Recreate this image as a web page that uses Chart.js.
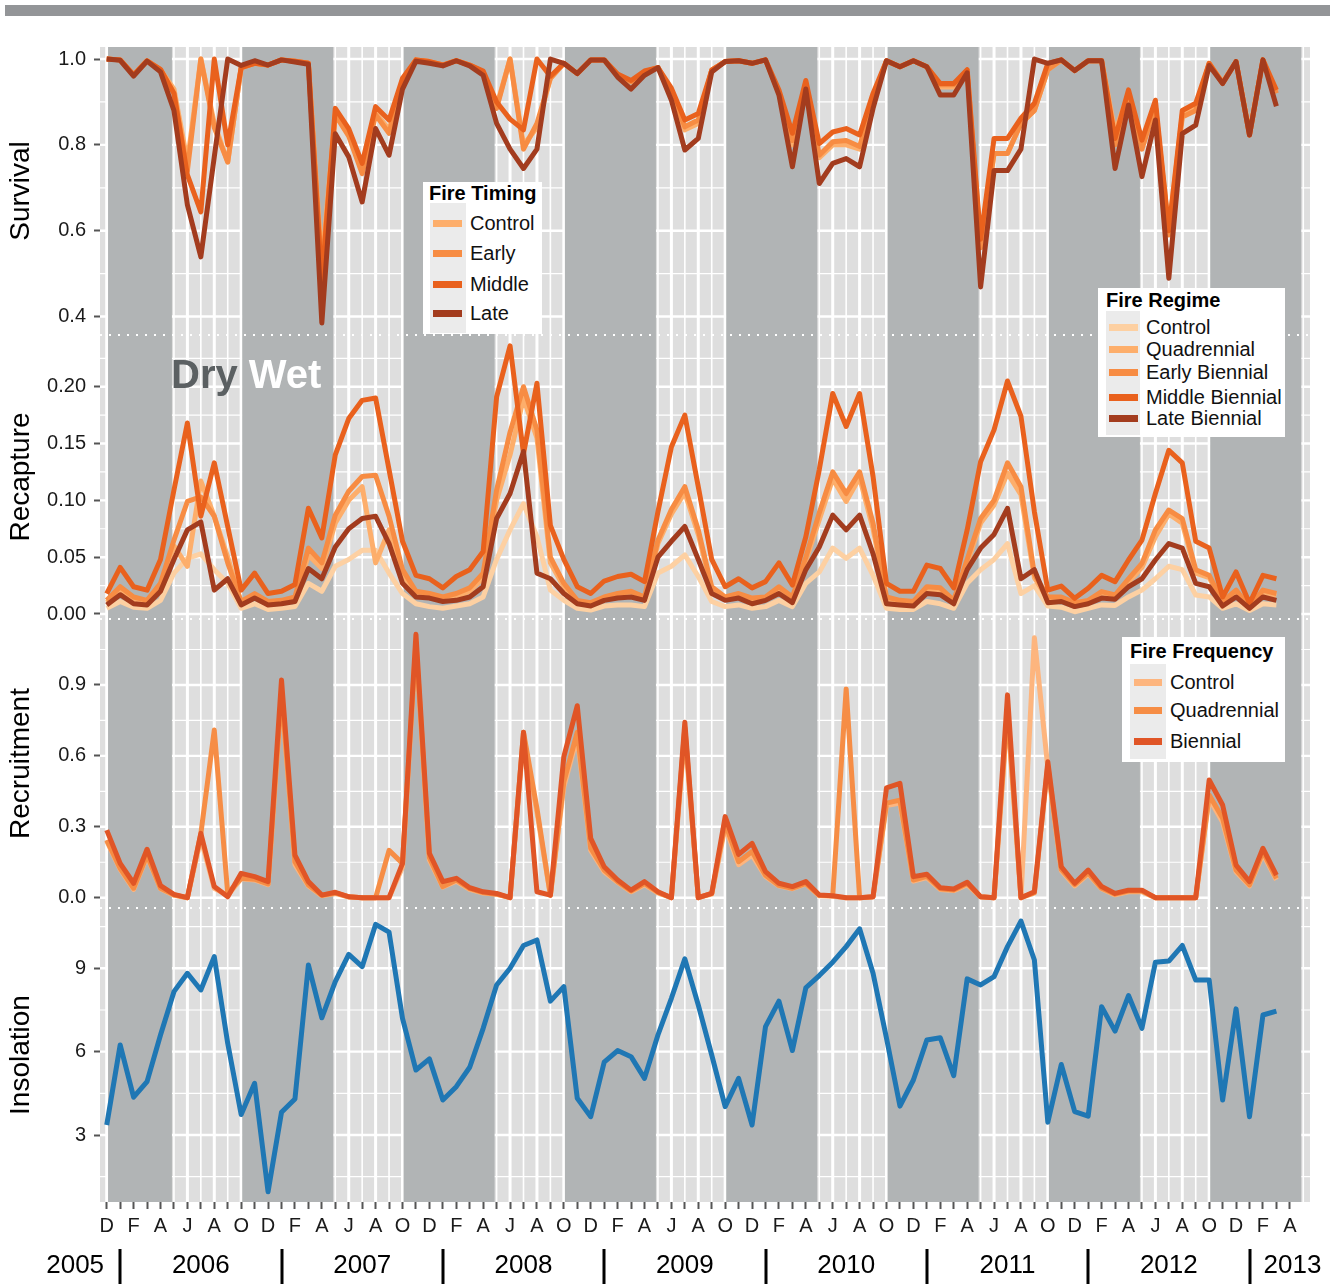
<!DOCTYPE html>
<html>
<head>
<meta charset="utf-8">
<script src="https://cdn.jsdelivr.net/npm/chart.js@4.4.1/dist/chart.umd.min.js"></script>
<style>
html,body{margin:0;padding:0;background:#fff;}
#wrap{position:relative;width:1333px;height:1284px;font-family:"Liberation Sans",Arial,Helvetica,sans-serif;overflow:hidden;}
#c{position:absolute;left:0;top:0;}
.topbar{position:absolute;left:5px;top:5px;width:1325px;height:11px;background:#939598;}
.leg{position:absolute;background:#fff;}
.leg .t{position:absolute;font-weight:bold;font-size:20px;line-height:20px;color:#000;white-space:nowrap;}
.leg .kc{position:absolute;background:#ebebeb;}
.leg .ln{position:absolute;height:7px;}
.leg .lb{position:absolute;font-size:20px;line-height:20px;color:#111;white-space:nowrap;}
.season{position:absolute;left:171px;top:354px;font-size:40px;line-height:40px;font-weight:bold;color:#5b6062;white-space:nowrap;}
.season span{color:#fff;}
</style>
</head>
<body>
<div id="wrap">
<canvas id="c" width="1333" height="1284"></canvas>
<div class="topbar"></div>
<div class="season">Dry <span>Wet</span></div>
</div>
<script>
// ---------- DATA ----------
// month index 0 = Dec 2005 ... 88 = Apr 2013
const monthInitials = ['D','J','F','M','A','M','J','J','A','S','O','N'];
const years = ['2005','2006','2007','2008','2009','2010','2011','2012','2013'];

const timingNames = ['Control','Early','Middle','Late'];
const regimeNames = ['Control','Quadrennial','Early Biennial','Middle Biennial','Late Biennial'];
const frequencyNames = ['Control','Quadrennial','Biennial'];

const survivalControl = [1.0,0.998,0.963,0.996,0.975,0.93,0.76,1.0,0.85,0.76,
 0.98,0.99,0.986,0.998,0.995,0.99,0.52,0.875,0.83,0.745,
 0.875,0.835,0.95,0.998,0.994,0.986,0.996,0.986,0.97,0.89,
 1.0,0.80,0.84,0.955,0.99,0.966,0.998,0.998,0.962,0.947,
 0.97,0.98,0.925,0.835,0.85,0.974,0.994,0.996,0.99,0.998,
 0.92,0.80,0.945,0.77,0.80,0.80,0.79,0.905,0.996,0.982,
 0.996,0.982,0.935,0.935,0.974,0.57,0.78,0.78,0.85,0.88,
 0.975,0.998,0.973,0.996,0.996,0.83,0.92,0.80,0.89,0.60,
 0.87,0.885,0.99,0.945,0.994,0.83,0.998,0.925];
const survivalEarly = [1.0,0.998,0.963,0.996,0.975,0.92,0.74,1.0,0.84,0.76,
 0.98,0.99,0.986,0.998,0.995,0.99,0.50,0.87,0.82,0.733,
 0.87,0.827,0.95,0.998,0.994,0.986,0.996,0.986,0.97,0.885,
 1.0,0.79,0.85,0.955,0.99,0.966,0.998,0.998,0.962,0.947,
 0.97,0.98,0.925,0.842,0.858,0.974,0.994,0.996,0.99,0.998,
 0.92,0.81,0.945,0.776,0.807,0.81,0.796,0.91,0.996,0.982,
 0.996,0.982,0.94,0.94,0.974,0.56,0.78,0.78,0.85,0.88,
 0.975,0.998,0.973,0.996,0.996,0.80,0.92,0.79,0.89,0.59,
 0.865,0.88,0.99,0.945,0.994,0.823,0.998,0.92];
const survivalMiddle = [1.0,0.998,0.963,0.996,0.976,0.92,0.73,0.644,1.0,0.80,
 0.98,0.99,0.986,0.998,0.995,0.99,0.48,0.885,0.838,0.757,
 0.889,0.858,0.955,0.998,0.994,0.986,0.996,0.986,0.972,0.90,
 0.86,0.835,1.0,0.96,0.99,0.966,0.998,0.998,0.965,0.95,
 0.972,0.98,0.932,0.858,0.873,0.974,0.994,0.996,0.99,0.998,
 0.928,0.827,0.95,0.803,0.83,0.838,0.823,0.92,0.996,0.982,
 0.996,0.982,0.943,0.943,0.975,0.58,0.815,0.815,0.862,0.897,
 0.99,0.998,0.973,0.996,0.996,0.815,0.928,0.811,0.904,0.60,
 0.88,0.897,0.99,0.943,0.994,0.823,0.998,0.928];
const survivalLate = [1.0,0.997,0.96,0.995,0.97,0.88,0.66,0.539,0.772,1.0,
 0.985,0.996,0.986,0.998,0.993,0.988,0.385,0.826,0.772,0.667,
 0.838,0.776,0.93,0.995,0.99,0.984,0.996,0.984,0.962,0.85,
 0.79,0.745,0.79,1.0,0.99,0.966,0.998,0.998,0.958,0.93,
 0.962,0.98,0.904,0.788,0.815,0.97,0.994,0.996,0.99,0.998,
 0.916,0.749,0.93,0.71,0.757,0.768,0.749,0.885,0.996,0.982,
 0.996,0.982,0.916,0.916,0.968,0.469,0.74,0.74,0.79,1.0,
 0.99,0.998,0.973,0.996,0.996,0.745,0.893,0.726,0.858,0.489,
 0.826,0.846,0.985,0.943,0.994,0.823,0.998,0.89];

const recaptureControl = [0.005,0.011,0.006,0.005,0.012,0.036,0.049,0.053,0.039,0.027,
 0.005,0.009,0.004,0.005,0.0065,0.027,0.02,0.042,0.048,0.056,
 0.056,0.036,0.018,0.009,0.0065,0.005,0.007,0.009,0.015,0.048,
 0.074,0.097,0.068,0.021,0.012,0.005,0.0035,0.007,0.008,0.008,
 0.0065,0.036,0.042,0.052,0.033,0.011,0.0065,0.008,0.005,0.0065,
 0.012,0.0065,0.027,0.037,0.058,0.049,0.058,0.034,0.005,0.004,
 0.004,0.011,0.009,0.005,0.027,0.039,0.048,0.062,0.018,0.025,
 0.007,0.006,0.002,0.005,0.008,0.0075,0.015,0.021,0.031,0.042,
 0.039,0.0167,0.015,0.005,0.009,0.003,0.009,0.008];
const recaptureQuadrennial = [0.01,0.02,0.012,0.01,0.024,0.06,0.042,0.117,0.086,0.05,
 0.009,0.015,0.009,0.01,0.013,0.052,0.04,0.08,0.10,0.112,
 0.045,0.074,0.035,0.017,0.016,0.013,0.015,0.02,0.032,0.10,
 0.14,0.19,0.155,0.045,0.024,0.011,0.009,0.013,0.016,0.017,
 0.013,0.062,0.088,0.107,0.07,0.022,0.013,0.016,0.012,0.013,
 0.022,0.013,0.047,0.083,0.119,0.099,0.12,0.075,0.013,0.011,
 0.01,0.022,0.02,0.011,0.045,0.08,0.096,0.124,0.105,0.032,
 0.013,0.013,0.009,0.01,0.018,0.015,0.028,0.041,0.068,0.088,
 0.08,0.036,0.032,0.01,0.019,0.006,0.019,0.016];
const recaptureEarlyBiennial = [0.012,0.024,0.015,0.012,0.027,0.065,0.099,0.103,0.086,0.045,
 0.011,0.018,0.011,0.012,0.015,0.058,0.045,0.087,0.108,0.121,
 0.122,0.086,0.039,0.02,0.018,0.015,0.018,0.023,0.036,0.109,
 0.16,0.20,0.162,0.05,0.027,0.012,0.01,0.015,0.018,0.02,
 0.015,0.065,0.092,0.112,0.074,0.024,0.015,0.018,0.014,0.015,
 0.024,0.015,0.05,0.089,0.125,0.106,0.125,0.08,0.015,0.012,
 0.011,0.024,0.023,0.012,0.048,0.084,0.10,0.133,0.112,0.035,
 0.015,0.015,0.01,0.012,0.0197,0.0167,0.031,0.0446,0.074,0.0915,
 0.084,0.039,0.034,0.011,0.021,0.0065,0.021,0.018];
const recaptureMiddleBiennial = [0.018,0.041,0.024,0.021,0.048,0.109,0.168,0.086,0.133,0.077,
 0.021,0.036,0.018,0.02,0.026,0.093,0.067,0.14,0.172,0.188,
 0.19,0.127,0.064,0.034,0.031,0.023,0.033,0.039,0.055,0.191,
 0.236,0.141,0.203,0.078,0.048,0.024,0.018,0.029,0.033,0.035,
 0.0285,0.09,0.147,0.175,0.112,0.048,0.024,0.031,0.023,0.0285,
 0.045,0.0255,0.068,0.127,0.194,0.165,0.194,0.121,0.027,0.02,
 0.02,0.043,0.04,0.023,0.074,0.134,0.162,0.205,0.174,0.09,
 0.021,0.0246,0.0138,0.0226,0.034,0.0285,0.0475,0.065,0.106,0.144,
 0.133,0.064,0.058,0.015,0.037,0.0094,0.034,0.031];
const recaptureLateBiennial = [0.008,0.017,0.009,0.008,0.02,0.048,0.074,0.081,0.021,0.031,
 0.008,0.014,0.008,0.009,0.011,0.04,0.031,0.059,0.075,0.084,
 0.086,0.062,0.027,0.015,0.014,0.011,0.012,0.015,0.024,0.084,
 0.106,0.143,0.036,0.031,0.018,0.009,0.007,0.012,0.014,0.015,
 0.012,0.05,0.064,0.077,0.048,0.018,0.012,0.014,0.009,0.012,
 0.018,0.01,0.039,0.059,0.087,0.074,0.087,0.053,0.009,0.008,
 0.007,0.018,0.017,0.009,0.039,0.058,0.07,0.093,0.031,0.039,
 0.01,0.011,0.0065,0.009,0.014,0.013,0.024,0.031,0.0475,0.062,
 0.058,0.027,0.024,0.007,0.015,0.005,0.015,0.012];

const recruitmentControl = [0.24,0.12,0.035,0.175,0.038,0.01,0,0.25,0.04,0.01,
 0.08,0.075,0.055,0.86,0.14,0.05,0.008,0.018,0.003,0,
 0,0,0.13,1.09,0.16,0.045,0.07,0.035,0.02,0.014,
 0,0.68,0.36,0.01,0.47,0.68,0.2,0.11,0.065,0.025,
 0.055,0.02,0,0.70,0,0.015,0.30,0.14,0.18,0.09,
 0.05,0.038,0.058,0.008,0.006,0,0,0.003,0.39,0.40,
 0.07,0.085,0.035,0.03,0.055,0.003,0,0.78,0,1.10,
 0.55,0.115,0.05,0.10,0.038,0.012,0.025,0.025,0,0,
 0,0,0.42,0.32,0.11,0.05,0.185,0.075];
const recruitmentQuadrennial = [0.244,0.124,0.04,0.18,0.04,0.012,0,0.27,0.709,0.018,
 0.082,0.078,0.058,0.87,0.152,0.054,0.01,0.02,0.004,0,
 0,0.2,0.145,1.08,0.17,0.047,0.075,0.038,0.022,0.015,
 0,0.70,0.378,0.01,0.49,0.70,0.209,0.117,0.068,0.028,
 0.06,0.022,0,0.72,0,0.018,0.315,0.152,0.195,0.095,
 0.052,0.04,0.06,0.01,0.008,0.883,0,0.004,0.40,0.413,
 0.075,0.09,0.038,0.032,0.06,0.004,0,0.80,0,0.02,
 0.56,0.12,0.055,0.105,0.04,0.015,0.028,0.028,0,0,
 0,0,0.434,0.336,0.117,0.054,0.195,0.082];
const recruitmentBiennial = [0.286,0.145,0.061,0.205,0.051,0.014,0,0.272,0.047,0.004,
 0.103,0.089,0.068,0.921,0.18,0.068,0.011,0.023,0.004,0,
 0,0,0.145,1.114,0.188,0.068,0.082,0.042,0.025,0.018,
 0,0.70,0.025,0.011,0.597,0.812,0.251,0.131,0.075,0.032,
 0.068,0.025,0,0.742,0,0.018,0.343,0.183,0.23,0.11,
 0.061,0.047,0.068,0.011,0.008,0,0,0.004,0.465,0.484,
 0.089,0.099,0.042,0.037,0.065,0.004,0,0.858,0,0.025,
 0.575,0.131,0.061,0.117,0.047,0.018,0.032,0.032,0,0,
 0,0,0.498,0.392,0.138,0.068,0.209,0.096];

const insolation = [3.36,6.24,4.36,4.92,6.6,8.16,8.82,8.22,9.42,6.3,
 3.74,4.86,0.96,3.82,4.3,9.12,7.22,8.52,9.5,9.06,
 10.58,10.3,7.2,5.34,5.74,4.26,4.74,5.44,6.84,8.4,
 9.0,9.82,10.02,7.82,8.34,4.32,3.66,5.62,6.04,5.82,
 5.04,6.6,7.92,9.34,7.68,5.88,4.02,5.04,3.36,6.9,
 7.82,6.04,8.3,8.74,9.22,9.78,10.42,8.82,6.48,4.04,
 4.98,6.42,6.5,5.14,8.62,8.4,8.7,9.78,10.7,9.3,
 3.46,5.54,3.84,3.68,7.62,6.74,8.02,6.84,9.22,9.26,
 9.82,8.58,8.58,4.26,7.54,3.66,7.32,7.46];

// shaded seasons, in month-index units
const wetSeasons = [[0.1,4.85],[10.08,16.85],[22.08,28.85],[34.08,40.85],[46.08,52.85],[58.08,64.85],[70.08,76.85],[82.08,88.85]];

const survivalTicks = [0.4,0.6,0.8,1.0];
const recaptureTicks = [0,0.05,0.10,0.15,0.20];
const recruitmentTicks = [0,0.3,0.6,0.9];
const insolationTicks = [3,6,9];

// ---------- STYLE ----------
const FONT = '"Liberation Sans", Arial, Helvetica, sans-serif';
Chart.defaults.font.family = FONT;
const timingColors = ['#fdae6b','#f78c43','#e9611d','#a33c1e'];
const regimeColors = ['#fdd0a2','#fdae6b','#f78c43','#e9611d','#a33c1e'];
const frequencyColors = ['#fdb57e','#f68d45','#e05526'];
const insColor = '#1f77b4';

const panels = [
  {id:'ySurv', title:'Survival', min:0.357, max:1.028, weight:288, order:4, ticks:survivalTicks, minor:[0.5,0.7,0.9], dec:1},
  {id:'yRecap', title:'Recapture', min:-0.0044, max:0.2455, weight:284, order:3, ticks:recaptureTicks, minor:[0.025,0.075,0.125,0.175,0.225], dec:2},
  {id:'yRecr', title:'Recruitment', min:-0.0436, max:1.179, weight:289, order:2, ticks:recruitmentTicks, minor:[0.15,0.45,0.75,1.05], dec:1},
  {id:'yIns', title:'Insolation', min:0.59, max:11.17, weight:294, order:1, ticks:insolationTicks, minor:[1.5,4.5,7.5,10.5], dec:0}
];

function pts(arr){ return arr.map((v,i)=>({x:i,y:v})); }
function ds(label, arr, color, axis, order){
  return {label, data:pts(arr), borderColor:color, backgroundColor:color, borderWidth:5,
    pointRadius:0, pointHoverRadius:0, tension:0, fill:false, yAxisID:axis, order,
    borderJoinStyle:'round', borderCapStyle:'butt'};
}
const survSeries = [survivalControl, survivalEarly, survivalMiddle, survivalLate];
const recapSeries = [recaptureControl, recaptureQuadrennial, recaptureEarlyBiennial, recaptureMiddleBiennial, recaptureLateBiennial];
const recrSeries = [recruitmentControl, recruitmentQuadrennial, recruitmentBiennial];

const datasets = [];
survSeries.forEach((a,k)=>datasets.push(ds('S '+timingNames[k], a, timingColors[k], 'ySurv', 10+survSeries.length-k)));
recapSeries.forEach((a,k)=>datasets.push(ds('R '+regimeNames[k], a, regimeColors[k], 'yRecap', 20+recapSeries.length-k)));
recrSeries.forEach((a,k)=>datasets.push(ds('N '+frequencyNames[k], a, frequencyColors[k], 'yRecr', 30+recrSeries.length-k)));
datasets.push(ds('Insolation', insolation, insColor, 'yIns', 1));

const scales = {
  x: {
    type:'linear', min:-0.5, max:89.5,
    afterBuildTicks: s => { s.ticks = Array.from({length:89},(_,i)=>({value:i})); },
    afterFit: s => { s.height = 82; },
    ticks:{autoSkip:false, maxRotation:0, minRotation:0, padding:5, color:'#1a1a1a', font:{size:20, family:FONT},
      callback:(v)=> (v%2===0 ? monthInitials[v%12] : '')},
    grid:{drawOnChartArea:false, drawTicks:true, tickLength:7, tickWidth:2, tickColor:'#555'},
    border:{display:false}
  }
};
panels.forEach(p=>{
  scales[p.id] = {
    type:'linear', position:'left', stack:'panels', stackWeight:p.weight, weight:p.order,
    min:p.min, max:p.max, offset:false,
    afterBuildTicks: s => { s.ticks = p.ticks.map(v=>({value:v})); },
    afterFit: s => { s.width = 100; },
    ticks:{padding:8, color:'#1a1a1a', font:{size:20, family:FONT}, callback:(v)=>Number(v).toFixed(p.dec)},
    grid:{drawOnChartArea:false, drawTicks:true, tickLength:6, tickWidth:2, tickColor:'#555'},
    border:{display:false},
    title:{display:true, text:p.title, color:'#000', font:{size:28, family:FONT}, padding:{top:4,bottom:0}}
  };
});

const bgPlugin = {
  id:'bg',
  beforeDatasetsDraw(chart){
    const ctx = chart.ctx, a = chart.chartArea, xs = chart.scales.x;
    ctx.save();
    panels.forEach(p=>{
      const ys = chart.scales[p.id];
      ctx.fillStyle = '#dedede';
      ctx.fillRect(a.left, ys.top, a.right-a.left, ys.bottom-ys.top);
      ctx.strokeStyle = '#ffffff';
      p.minor.forEach(v=>{ const y = ys.getPixelForValue(v); if(y<ys.top||y>ys.bottom) return;
        ctx.lineWidth = 1.2; ctx.beginPath(); ctx.moveTo(a.left,y); ctx.lineTo(a.right,y); ctx.stroke(); });
      p.ticks.forEach(v=>{ const y = ys.getPixelForValue(v);
        ctx.lineWidth = 2.4; ctx.beginPath(); ctx.moveTo(a.left,y); ctx.lineTo(a.right,y); ctx.stroke(); });
      for(let i=0;i<=89;i++){
        const x = xs.getPixelForValue(i);
        ctx.lineWidth = (i%2===0) ? 3 : 1.6;
        ctx.beginPath(); ctx.moveTo(x,ys.top); ctx.lineTo(x,ys.bottom); ctx.stroke();
      }
    });
    ctx.fillStyle = '#b1b4b5';
    wetSeasons.forEach(([s,e])=>{
      const x0 = xs.getPixelForValue(s), x1 = xs.getPixelForValue(e);
      ctx.fillRect(x0, a.top, x1-x0, a.bottom-a.top);
    });
    // panel separators
    ctx.strokeStyle = '#ffffff'; ctx.lineWidth = 2; ctx.setLineDash([2,7]);
    panels.slice(0,3).forEach(p=>{
      const y = chart.scales[p.id].bottom;
      ctx.beginPath(); ctx.moveTo(a.left,y); ctx.lineTo(a.right,y); ctx.stroke();
    });
    ctx.restore();
  },
  afterDraw(chart){
    const ctx = chart.ctx, xs = chart.scales.x;
    ctx.save();
    ctx.fillStyle = '#000'; ctx.font = '26px '+FONT; ctx.textAlign='center'; ctx.textBaseline='middle';
    years.forEach((yr,k)=>{
      let c = 7 + 12*(k-1);
      if (k===0) c = -2.35;
      if (k===years.length-1) c = 88.2;
      ctx.fillText(yr, xs.getPixelForValue(c), 1266);
      if (k>0){
        const bx = Math.round(xs.getPixelForValue(1+12*(k-1)));
        ctx.fillRect(bx-1.5, 1249, 3, 35);
      }
    });
    ctx.restore();
  }
};

new Chart(document.getElementById('c'), {
  type:'line',
  data:{datasets},
  options:{
    responsive:false, animation:false, events:[],
    layout:{padding:{left:0,right:23,top:47,bottom:0}},
    plugins:{legend:{display:false}, tooltip:{enabled:false}},
    scales
  },
  plugins:[bgPlugin]
});

// ---------- LEGENDS (HTML) ----------
const legendDefs = [
  {title:'Fire Timing', names:timingNames, colors:timingColors, box:[423,182,119,152], tx:429, ty:193,
   kc:[430,203,36,130], rows:[223,253,284,313], lx:[433,462], lbx:470},
  {title:'Fire Regime', names:regimeNames, colors:regimeColors, box:[1098,288,187,149], tx:1106, ty:300,
   kc:[1106,311,34,124], rows:[327,349,372,397,418], lx:[1109,1138], lbx:1146},
  {title:'Fire Frequency', names:frequencyNames, colors:frequencyColors, box:[1122,637,163,125], tx:1130, ty:651,
   kc:[1130,664,36,95], rows:[682,710,741], lx:[1134,1162], lbx:1170}
];
const wrap = document.getElementById('wrap');
legendDefs.forEach(L=>{
  const b = document.createElement('div'); b.className='leg';
  const [bx,by,bw,bh] = L.box;
  b.style.left=bx+'px'; b.style.top=by+'px'; b.style.width=bw+'px'; b.style.height=bh+'px';
  const t = document.createElement('div'); t.className='t'; t.textContent=L.title;
  t.style.left=(L.tx-bx)+'px'; t.style.top=(L.ty-10-by)+'px'; b.appendChild(t);
  const kc = document.createElement('div'); kc.className='kc';
  kc.style.left=(L.kc[0]-bx)+'px'; kc.style.top=(L.kc[1]-by)+'px'; kc.style.width=L.kc[2]+'px'; kc.style.height=L.kc[3]+'px';
  b.appendChild(kc);
  L.names.forEach((n,i)=>{
    const ln = document.createElement('div'); ln.className='ln';
    ln.style.left=(L.lx[0]-bx)+'px'; ln.style.width=(L.lx[1]-L.lx[0])+'px'; ln.style.top=(L.rows[i]-3.5-by)+'px';
    ln.style.background=L.colors[i]; b.appendChild(ln);
    const lb = document.createElement('div'); lb.className='lb'; lb.textContent=n;
    lb.style.left=(L.lbx-bx)+'px'; lb.style.top=(L.rows[i]-10-by)+'px'; b.appendChild(lb);
  });
  wrap.appendChild(b);
});
</script>
</body>
</html>
